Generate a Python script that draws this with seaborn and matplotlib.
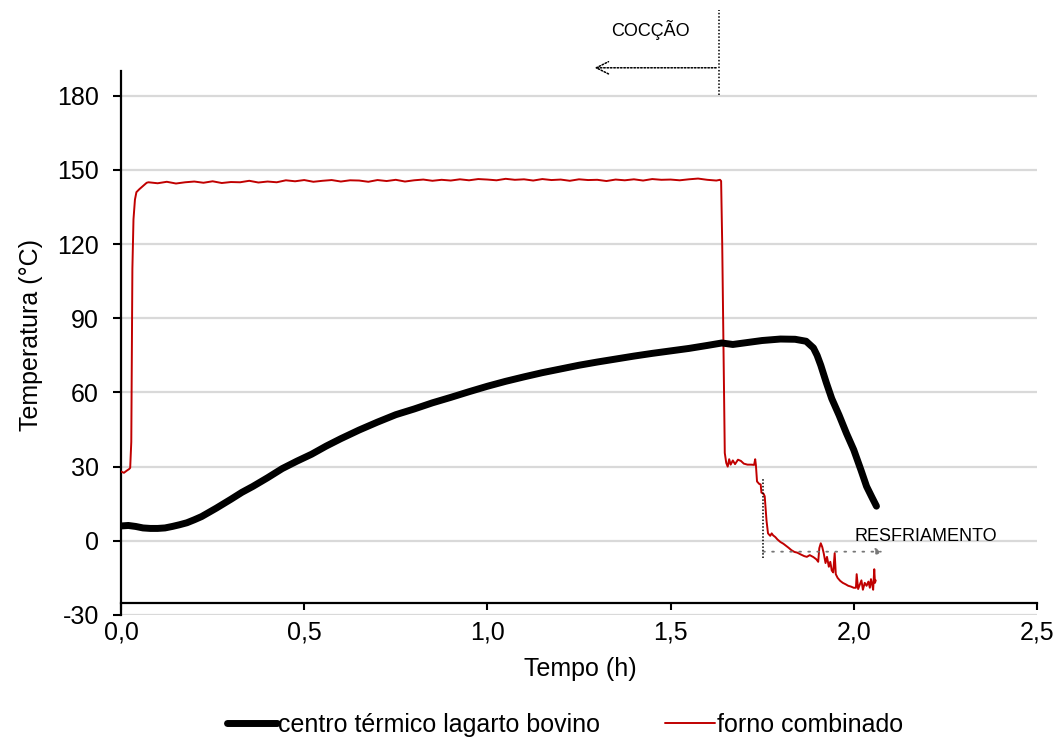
import matplotlib
matplotlib.use("Agg")
import matplotlib.pyplot as plt
import seaborn as sns
import pandas as pd

# Temperatura no centro térmico do lagarto bovino (h, °C)
tempo_centro = [0.00, 0.02, 0.04, 0.06, 0.08, 0.10, 0.12, 0.14, 0.16, 0.18,
                0.20, 0.22, 0.24, 0.26, 0.28, 0.30, 0.33, 0.36, 0.40, 0.44,
                0.48, 0.52, 0.56, 0.60, 0.65, 0.70, 0.75, 0.80, 0.85, 0.90,
                0.95, 1.00, 1.05, 1.10, 1.15, 1.20, 1.25, 1.30, 1.35, 1.40,
                1.45, 1.50, 1.55, 1.60, 1.64, 1.67, 1.70, 1.75, 1.80, 1.84,
                1.87, 1.89, 1.90, 1.91, 1.925, 1.94, 1.96, 1.98, 2.00, 2.02,
                2.035, 2.05, 2.062]
temp_centro = [6.0, 6.2, 5.8, 5.2, 5.0, 5.0, 5.2, 5.8, 6.5, 7.3,
               8.5, 9.8, 11.5, 13.2, 15.0, 16.8, 19.6, 22.0, 25.5, 29.2,
               32.2, 35.0, 38.3, 41.3, 44.8, 48.0, 51.0, 53.3, 55.8, 58.0,
               60.3, 62.5, 64.5, 66.3, 68.0, 69.5, 71.0, 72.3, 73.5, 74.7,
               75.8, 76.8, 77.8, 79.0, 80.0, 79.4, 80.0, 81.0, 81.6, 81.5,
               80.7, 78.0, 75.0, 71.0, 64.0, 57.5, 50.8, 43.5, 36.8, 28.5,
               22.0, 17.5, 14.0]

# Temperatura do forno combinado (h, °C)
tempo_forno = [0.000, 0.008, 0.015, 0.022, 0.025, 0.028, 0.031, 0.034, 0.038,
               0.042, 0.050, 0.060, 0.070,
               0.075, 0.100, 0.125, 0.150, 0.175, 0.200, 0.225, 0.250, 0.275,
               0.300, 0.325, 0.350, 0.375, 0.400, 0.425, 0.450, 0.475, 0.500,
               0.525, 0.550, 0.575, 0.600, 0.625, 0.650, 0.675, 0.700, 0.725,
               0.750, 0.775, 0.800, 0.825, 0.850, 0.875, 0.900, 0.925, 0.950,
               0.975, 1.000, 1.025, 1.050, 1.075, 1.100, 1.125, 1.150, 1.175,
               1.200, 1.225, 1.250, 1.275, 1.300, 1.325, 1.350, 1.375, 1.400,
               1.425, 1.450, 1.475, 1.500, 1.525, 1.550, 1.575, 1.600, 1.625,
               1.635, 1.638, 1.641, 1.645, 1.648, 1.652, 1.656, 1.660, 1.664,
               1.670, 1.676, 1.684, 1.692, 1.700, 1.710, 1.720, 1.728, 1.731,
               1.733, 1.736, 1.742, 1.746, 1.748, 1.754, 1.757, 1.762, 1.766,
               1.772, 1.776, 1.780, 1.786, 1.792, 1.800, 1.808, 1.815, 1.822,
               1.830, 1.838, 1.846, 1.855, 1.865, 1.872, 1.880, 1.890, 1.898,
               1.903, 1.906, 1.910, 1.914, 1.918, 1.923, 1.927, 1.932, 1.936,
               1.940, 1.944, 1.948, 1.951, 1.956, 1.963, 1.970, 1.978, 1.985,
               1.992, 2.000, 2.006, 2.008, 2.012, 2.017, 2.021, 2.025, 2.030,
               2.035, 2.040, 2.044, 2.047, 2.050, 2.053, 2.056, 2.058, 2.060]
temp_forno = [28.0, 27.5, 28.3, 29.0, 29.5, 40.0, 110.0, 130.0, 138.0,
              141.0, 142.2, 143.5, 144.8,
              145.0, 144.6, 145.2, 144.5, 145.0, 145.3, 144.8, 145.4, 144.7,
              145.1, 145.0, 145.6, 144.9, 145.3, 145.0, 145.8, 145.4, 145.9,
              145.2, 145.6, 145.9, 145.3, 145.8, 145.7, 145.2, 145.9, 145.5,
              146.0, 145.3, 145.8, 146.1, 145.6, 146.0, 145.7, 146.2, 145.8,
              146.3, 146.1, 145.8, 146.4, 146.0, 146.2, 145.7, 146.3, 145.9,
              146.1, 145.6, 146.2, 145.9, 146.0, 145.5, 146.1, 145.8, 146.2,
              145.7, 146.3, 146.0, 146.1, 145.8, 146.2, 146.5, 146.0, 145.7,
              146.0, 145.5, 120.0, 70.0, 35.5, 31.5, 30.0, 33.0, 30.8,
              32.5, 31.0, 32.8, 32.3, 31.2, 30.8, 30.8, 30.7, 33.0,
              30.5, 24.0, 23.0, 22.8, 19.5, 19.0, 18.0, 8.0, 3.0,
              2.0, 3.0, 2.2, 1.5, 0.5, -0.5, -1.2, -2.0, -2.8,
              -3.8, -4.5, -4.8, -5.5, -6.2, -6.5, -5.8, -6.6, -7.5,
              -8.5, -3.0, -1.0, -2.5, -5.0, -9.0, -6.5, -10.5, -8.5,
              -12.0, -12.8, -5.0, -13.5, -15.0, -16.2, -17.0, -17.6, -18.2,
              -18.5, -19.0, -19.0, -13.5, -19.5, -17.5, -16.0, -19.8, -17.0,
              -18.2, -16.5, -19.0, -15.5, -17.5, -19.8, -11.5, -17.0, -16.0]

rotulo_centro = "centro térmico lagarto bovino"
rotulo_forno = "forno combinado"

y_ticks = [-30, 0, 30, 60, 90, 120, 150, 180]
x_ticks = [0.0, 0.5, 1.0, 1.5, 2.0, 2.5]
x_tick_labels = ["0,0", "0,5", "1,0", "1,5", "2,0", "2,5"]

sns.set_style("white")
plt.rcParams["font.family"] = ["Liberation Sans", "DejaVu Sans"]
plt.rcParams["text.color"] = "black"
plt.rcParams["axes.labelcolor"] = "black"
plt.rcParams["axes.unicode_minus"] = False

FS = 18

df_centro = pd.DataFrame({"tempo": tempo_centro, "temp": temp_centro})
df_forno = pd.DataFrame({"tempo": tempo_forno, "temp": temp_forno})

fig = plt.figure(figsize=(10.57, 7.42), dpi=100)
ax = fig.add_axes([0.1145, 0.1712, 0.8665, 0.7331])

# gridlines
for yv in y_ticks:
    ax.axhline(yv, color="#d9d9d9", lw=1.6, zorder=0)

sns.lineplot(data=df_forno, x="tempo", y="temp", ax=ax, color="#c00000",
             lw=1.4, sort=False, estimator=None, label=rotulo_forno, zorder=3)
sns.lineplot(data=df_centro, x="tempo", y="temp", ax=ax, color="black",
             lw=5.0, sort=False, estimator=None, label=rotulo_centro, zorder=4,
             solid_capstyle="round")

ax.set_xlim(0, 2.5)
ax.set_ylim(-30, 190)
ax.set_xticks(x_ticks)
ax.set_xticklabels(x_tick_labels)
ax.set_yticks(y_ticks)
ax.tick_params(axis="both", labelsize=FS, direction="out", colors="black")
ax.tick_params(axis="y", length=6, width=1.5, pad=10)
ax.tick_params(axis="x", length=5, width=1.5, pad=8)
ax.xaxis.set_ticks_position("bottom")
ax.yaxis.set_ticks_position("left")

for s in ["top", "right"]:
    ax.spines[s].set_visible(False)
for s in ["left", "bottom"]:
    ax.spines[s].set_color("black")
    ax.spines[s].set_linewidth(1.6)
ax.spines["bottom"].set_position(("data", -25))

ax.set_xlabel("Tempo (h)", fontsize=FS)
ax.set_ylabel("Temperatura (°C)", fontsize=FS)
ax.xaxis.set_label_coords(0.501, -0.078)
ax.yaxis.set_label_coords(-0.085, 0.515)

# Cocção marker: dotted vertical line and arrow pointing left
ax.plot([1.632, 1.632], [180.4, 214.7], color="black", ls=(0, (1, 1.2)),
        lw=1.1, clip_on=False)
ax.annotate("", xy=(1.285, 191.3), xytext=(1.632, 191.3),
            arrowprops=dict(arrowstyle="->", color="black", lw=1.1,
                            linestyle=(0, (1, 1.2)), mutation_scale=22),
            annotation_clip=False)
ax.text(1.444, 206.6, "COCÇÃO", fontsize=13, ha="center", va="center",
        clip_on=False)

# Resfriamento marker
ax.plot([1.752, 1.752], [-6.9, 25.5], color="black", ls=(0, (1, 1.2)),
        lw=1.1, zorder=5)
ax.annotate("", xy=(2.087, -4.4), xytext=(1.745, -4.4),
            arrowprops=dict(arrowstyle="-|>", color="#777777", lw=1.3,
                            linestyle=(0, (1, 4)), mutation_scale=10),
            zorder=5)
ax.text(2.003, 1.6, "RESFRIAMENTO", fontsize=13, ha="left", va="center")

# legend
ax.get_legend().remove()
h, l = ax.get_legend_handles_labels()
order = [l.index(rotulo_centro), l.index(rotulo_forno)]
fig.legend([h[i] for i in order], [l[i] for i in order], loc="center",
           bbox_to_anchor=(0.5345, 0.023), ncol=2, frameon=False,
           fontsize=FS, handlelength=2.0, handletextpad=0.05,
           columnspacing=2.6)

fig.savefig("out.png", dpi=100)
